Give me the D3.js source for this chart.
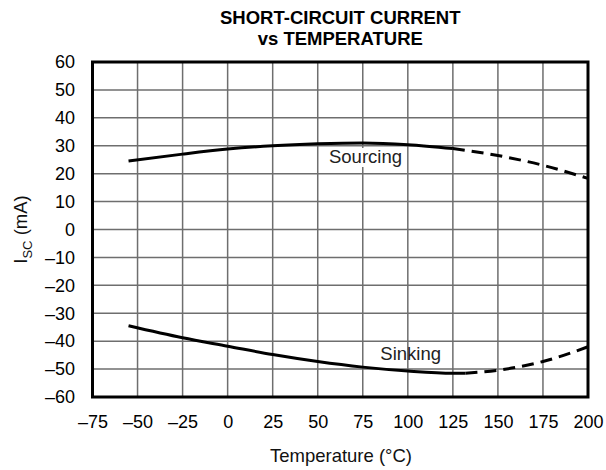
<!DOCTYPE html>
<html><head><meta charset="utf-8">
<script src="https://cdn.jsdelivr.net/npm/d3@7"></script>
<style>body{margin:0;background:#fff}svg{display:block}text{font-family:"Liberation Sans",Arial,Helvetica,sans-serif}</style>
</head><body>
<script>
const xTicks = [-75,-50,-25,0,25,50,75,100,125,150,175,200];
const yTicks = [60,50,40,30,20,10,0,-10,-20,-30,-40,-50,-60];
const sourcingSolidT = [-55,-25,0,25,50,75,100,125];
const sourcingSolidV = [24.5,27.0,28.8,30.0,30.7,31.0,30.4,29.0];
const sourcingDashT = [125,150,175,200];
const sourcingDashV = [29.0,26.5,23.0,18.3];
const sinkingSolidT = [-55,-25,0,25,50,75,100,125,132];
const sinkingSolidV = [-34.5,-38.8,-41.8,-44.8,-47.3,-49.3,-50.7,-51.5,-51.5];
const sinkingDashT = [132,150,175,200];
const sinkingDashV = [-51.5,-50.4,-47.3,-42.0];

const W=606,H=470;
const m={l:92.5,r:606-588,t:62,b:470-397};
const svg=d3.select("body").append("svg").attr("width",W).attr("height",H);
const x=d3.scaleLinear().domain([-75,200]).range([m.l,W-m.r]);
const y=d3.scaleLinear().domain([-60,60]).range([H-m.b,m.t]);

// grid
const g=svg.append("g");
g.selectAll(".vx").data(xTicks.slice(1,-1)).enter().append("line")
 .attr("x1",d=>x(d)).attr("x2",d=>x(d)).attr("y1",y(60)).attr("y2",y(-60))
 .attr("stroke","#6e6e6e").attr("stroke-width",1.5);
g.selectAll(".hy").data(yTicks.slice(1,-1)).enter().append("line")
 .attr("y1",d=>y(d)).attr("y2",d=>y(d)).attr("x1",x(-75)).attr("x2",x(200))
 .attr("stroke","#6e6e6e").attr("stroke-width",1.5);

// axes labels
const xa=svg.append("g").attr("transform",`translate(0,${y(-60)})`)
 .call(d3.axisBottom(x).tickValues(xTicks).tickSize(0).tickPadding(18)
 .tickFormat(d=>String(d).replace("-","\u2013")));
xa.select(".domain").remove();
xa.selectAll("text").attr("font-size",18).attr("fill","#000").attr("font-family","Liberation Sans, Arial, sans-serif");
const ya=svg.append("g").attr("transform",`translate(${x(-75)},0)`)
 .call(d3.axisLeft(y).tickValues(yTicks).tickSize(0).tickPadding(17.5)
 .tickFormat(d=>String(d).replace("-","\u2013")));
ya.select(".domain").remove();
ya.selectAll("text").attr("font-size",18).attr("fill","#000").attr("font-family","Liberation Sans, Arial, sans-serif");

// curves
const line=d3.line().x(d=>x(d[0])).y(d=>y(d[1])).curve(d3.curveMonotoneX);
const zip=(a,b)=>a.map((t,i)=>[t,b[i]]);
function draw(T,V,dash){
  svg.append("path").datum(zip(T,V)).attr("d",line).attr("fill","none")
   .attr("stroke","#000").attr("stroke-width",3)
   .attr("stroke-dasharray",dash?"12,7":null);
}
draw(sourcingSolidT,sourcingSolidV,false);
draw(sourcingDashT,sourcingDashV,true);
draw(sinkingSolidT,sinkingSolidV,false);
draw(sinkingDashT,sinkingDashV,true);

// labels
function label(txt,cx,by,bg){
  const t=svg.append("text").attr("x",cx).attr("y",by).attr("text-anchor","middle")
   .attr("font-size",18.5).attr("fill","#222").text(txt);
  if(bg){const b=t.node().getBBox();
   svg.insert("rect",()=>t.node()).attr("x",b.x-1).attr("y",b.y+2).attr("width",b.width+2).attr("height",b.height-2).attr("fill","#fff");}
}
label("Sourcing",365.5,163,true);
label("Sinking",410.7,360,false);

// frame
svg.append("rect").attr("x",x(-75)).attr("y",y(60)).attr("width",x(200)-x(-75)).attr("height",y(-60)-y(60))
 .attr("fill","none").attr("stroke","#000").attr("stroke-width",3);

// title
const cx=(x(-75)+x(200))/2;
svg.append("text").attr("x",cx).attr("y",24).attr("text-anchor","middle").attr("font-weight","bold").attr("font-size",18.5).text("SHORT-CIRCUIT CURRENT");
svg.append("text").attr("x",cx).attr("y",45).attr("text-anchor","middle").attr("font-weight","bold").attr("font-size",18.5).text("vs TEMPERATURE");

// axis titles
svg.append("text").attr("x",341).attr("y",461.5).attr("text-anchor","middle").attr("font-size",18.5).attr("fill","#111").text("Temperature (\u00B0C)");
const yt=svg.append("text").attr("transform",`translate(27,${(y(60)+y(-60))/2}) rotate(-90)`).attr("text-anchor","middle").attr("font-size",18.5).attr("fill","#111");
yt.append("tspan").text("I");
yt.append("tspan").attr("font-size",13).attr("dy",5).text("SC");
yt.append("tspan").attr("dy",-5).text(" (mA)");
</script>
</body></html>
